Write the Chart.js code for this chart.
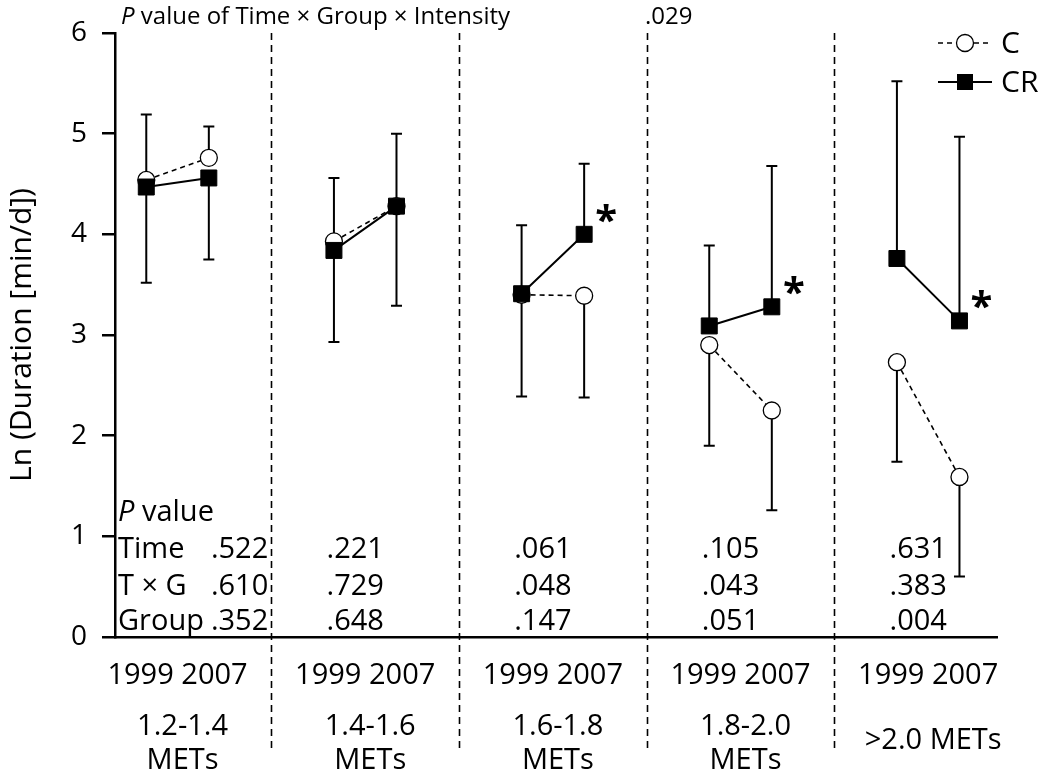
<!DOCTYPE html>
<html>
<head>
<meta charset="utf-8">
<script src="https://cdn.jsdelivr.net/npm/chart.js@4.4.1/dist/chart.umd.min.js"></script>
<style>
  html, body { margin: 0; padding: 0; background: #fff; }
  #wrap { width: 1050px; height: 779px; position: relative; }
</style>
</head>
<body>
<div id="wrap"><canvas id="chart"></canvas></div>
<script>
// values per slot: [g1 1999, g1 2007, g2 1999, g2 2007, ...]
const intensityLabels = [['1.2-1.4', 'METs'], ['1.4-1.6', 'METs'], ['1.6-1.8', 'METs'], ['1.8-2.0', 'METs'], ['>2.0 METs']];
const yearTickLabel = '1999 2007';
const yTicks = [0, 1, 2, 3, 4, 5, 6];

const cMeans = [4.54, 4.76, 3.93, 4.28, 3.40, 3.39, 2.90, 2.25, 2.73, 1.59];
const crMeans = [4.47, 4.56, 3.84, 4.28, 3.41, 4.00, 3.09, 3.28, 3.76, 3.14];

// error bar end points (null = no bar for that series)
const cErrHigh = [5.19, 5.07, 4.56, 5.00, null, null, null, null, null, null];
const cErrLow = [null, null, null, null, 2.39, 2.38, 1.90, 1.26, 1.74, 0.60];
const crErrHigh = [null, null, null, null, 4.09, 4.70, 3.89, 4.68, 5.52, 4.97];
const crErrLow = [3.52, 3.75, 2.93, 3.29, null, null, null, null, null, null];

const starSlots = [5, 7, 9];

const pRowNames = ['Time', 'T \u00d7 G', 'Group'];
const pTime = ['.522', '.221', '.061', '.105', '.631'];
const pTxG = ['.610', '.729', '.048', '.043', '.383'];
const pGroup = ['.352', '.648', '.147', '.051', '.004'];
const pThreeWay = '.029';

const FONT = '"Open Sans", Lato, sans-serif';

function slotX(i) {
  const g = Math.floor(i / 2);
  return 3 * g + 1 + (i % 2);
}

function toPoints(vals) {
  const pts = [];
  vals.forEach((v, i) => {
    pts.push({ x: slotX(i), y: v });
    if (i % 2 === 1) pts.push({ x: slotX(i) + 0.5, y: null });
  });
  return pts;
}

function font(size, style) {
  return `${style || ''} ${size}px ${FONT}`;
}

const decor = {
  id: 'decor',
  beforeDatasetsDraw(chart) {
    const { ctx, chartArea, scales } = chart;
    const xs = scales.x, ys = scales.y;
    ctx.save();
    // group separators
    ctx.strokeStyle = '#000';
    ctx.lineWidth = 1.6;
    ctx.setLineDash([7, 5]);
    intensityLabels.slice(1).forEach((_, k) => {
      const px = Math.round(xs.getPixelForValue(3 * (k + 1))) + 0.5;
      ctx.beginPath();
      ctx.moveTo(px, chartArea.top);
      ctx.lineTo(px, 752);
      ctx.stroke();
    });
    ctx.setLineDash([]);
    // error bars
    ctx.lineWidth = 2;
    const bar = (means, ends) => {
      ends.forEach((e, i) => {
        if (e == null) return;
        const px = xs.getPixelForValue(slotX(i));
        const y0 = ys.getPixelForValue(means[i]);
        const y1 = ys.getPixelForValue(e);
        ctx.beginPath();
        ctx.moveTo(px, y0);
        ctx.lineTo(px, y1);
        ctx.moveTo(px - 5.5, y1);
        ctx.lineTo(px + 5.5, y1);
        ctx.stroke();
      });
    };
    bar(cMeans, cErrHigh);
    bar(cMeans, cErrLow);
    bar(crMeans, crErrHigh);
    bar(crMeans, crErrLow);
    ctx.restore();
  },
  afterDatasetsDraw(chart) {
    const { ctx, chartArea, scales } = chart;
    const xs = scales.x, ys = scales.y;
    ctx.save();
    ctx.fillStyle = '#000';

    // asterisks
    ctx.font = font(40, 'bold');
    ctx.textAlign = 'center';
    ctx.textBaseline = 'middle';
    starSlots.forEach((i) => {
      const px = xs.getPixelForValue(slotX(i));
      const py = ys.getPixelForValue(crMeans[i]);
      ctx.fillText('*', px + 22, py - 12);
    });

    // title
    ctx.textAlign = 'left';
    ctx.textBaseline = 'alphabetic';
    ctx.font = font(24, 'italic');
    ctx.fillText('P', 121, 24);
    const pw = ctx.measureText('P').width;
    ctx.font = font(24);
    ctx.fillText(' value of Time \u00d7 Group \u00d7 Intensity', 121 + pw, 24);
    ctx.fillText(pThreeWay, 645, 24);

    // P value table
    const rowY = [1.15, 0.785, 0.415, 0.07].map((v) => ys.getPixelForValue(v));
    ctx.font = font(29, 'italic');
    ctx.fillText('P', 118, rowY[0]);
    const pw2 = ctx.measureText('P').width;
    ctx.font = font(29);
    ctx.fillText(' value', 118 + pw2, rowY[0]);
    pRowNames.forEach((n, r) => ctx.fillText(n, 118, rowY[r + 1]));
    [pTime, pTxG, pGroup].forEach((row, r) => {
      row.forEach((txt, g) => {
        if (g === 0) {
          ctx.textAlign = 'right';
          ctx.fillText(txt, xs.getPixelForValue(2.95), rowY[r + 1]);
        } else {
          ctx.textAlign = 'center';
          ctx.fillText(txt, xs.getPixelForValue(3 * g + 1.5) - 10, rowY[r + 1]);
        }
        ctx.textAlign = 'left';
      });
    });

    // intensity labels under the years
    ctx.textAlign = 'center';
    ctx.textBaseline = 'middle';
    ctx.font = font(29);
    intensityLabels.forEach((lines, g) => {
      const px = xs.getPixelForValue(3 * g + 1.5) + 5;
      if (lines.length === 1) {
        ctx.fillText(lines[0], px, 741);
      } else {
        ctx.fillText(lines[0], px, 727);
        ctx.fillText(lines[1], px, 761);
      }
    });

    // y axis title
    ctx.save();
    ctx.translate(31, (chartArea.top + chartArea.bottom) / 2);
    ctx.rotate(-Math.PI / 2);
    ctx.textAlign = 'center';
    ctx.textBaseline = 'alphabetic';
    ctx.font = font(30);
    ctx.fillText('Ln (Duration [min/d])', 0, 0);
    ctx.restore();

    // legend
    const sets = chart.data.datasets;
    const rows = [sets.find((d) => d.label === 'C'), sets.find((d) => d.label === 'CR')];
    rows.forEach((ds, r) => {
      const ly = 43 + r * 39;
      ctx.strokeStyle = ds.borderColor;
      ctx.lineWidth = ds.borderWidth;
      ctx.setLineDash(ds.borderDash || []);
      ctx.beginPath();
      ctx.moveTo(938, ly);
      ctx.lineTo(992, ly);
      ctx.stroke();
      ctx.setLineDash([]);
      ctx.fillStyle = ds.pointBackgroundColor;
      ctx.lineWidth = ds.pointBorderWidth;
      if (ds.pointStyle === 'rect') {
        ctx.fillRect(957, ly - 8, 16, 16);
      } else {
        ctx.beginPath();
        ctx.arc(965, ly, ds.pointRadius, 0, Math.PI * 2);
        ctx.fill();
        ctx.stroke();
      }
      ctx.fillStyle = '#000';
      ctx.textAlign = 'left';
      ctx.textBaseline = 'middle';
      ctx.font = font(30);
      ctx.fillText(ds.label, 1001, ly + 1);
    });
    ctx.restore();
  }
};

new Chart(document.getElementById('chart'), {
  type: 'line',
  data: {
    datasets: [
      {
        label: 'CR',
        data: toPoints(crMeans),
        order: 0,
        borderColor: '#000',
        borderWidth: 2,
        pointStyle: 'rect',
        pointRadius: 11.3,
        pointBackgroundColor: '#000',
        pointBorderColor: '#000',
        pointBorderWidth: 1,
        spanGaps: false,
      },
      {
        label: 'C',
        data: toPoints(cMeans),
        order: 1,
        borderColor: '#000',
        borderWidth: 1.6,
        borderDash: [5, 4],
        pointStyle: 'circle',
        pointRadius: 8.5,
        pointBackgroundColor: '#fff',
        pointBorderColor: '#000',
        pointBorderWidth: 1.3,
        spanGaps: false,
      },
    ],
  },
  options: {
    responsive: true,
    maintainAspectRatio: false,
    animation: false,
    layout: { padding: { top: 33, right: 53, left: 0, bottom: 0 } },
    plugins: { legend: { display: false }, tooltip: { enabled: false } },
    scales: {
      x: {
        type: 'linear',
        min: 0.5,
        max: 14.6,
        grid: { display: false, drawTicks: false },
        border: { display: true, color: '#000', width: 2.5 },
        afterBuildTicks: (s) => {
          s.ticks = intensityLabels.map((_, g) => ({ value: 3 * g + 1.5 }));
        },
        afterFit: (s) => { s.height = 142; },
        ticks: {
          autoSkip: false,
          maxRotation: 0,
          color: '#000',
          padding: 21,
          font: { family: FONT, size: 29 },
          callback: () => yearTickLabel,
        },
      },
      y: {
        min: 0,
        max: 6,
        afterBuildTicks: (s) => {
          s.ticks = yTicks.map((v) => ({ value: v }));
        },
        afterFit: (s) => { s.width = 115; },
        grid: { drawOnChartArea: false, drawTicks: true, tickLength: 13, color: '#000', lineWidth: 2.5 },
        border: { display: true, color: '#000', width: 2.5 },
        ticks: {
          color: '#000',
          padding: 15,
          font: { family: FONT, size: 28 },
        },
      },
    },
  },
  plugins: [decor],
});
</script>
</body>
</html>
